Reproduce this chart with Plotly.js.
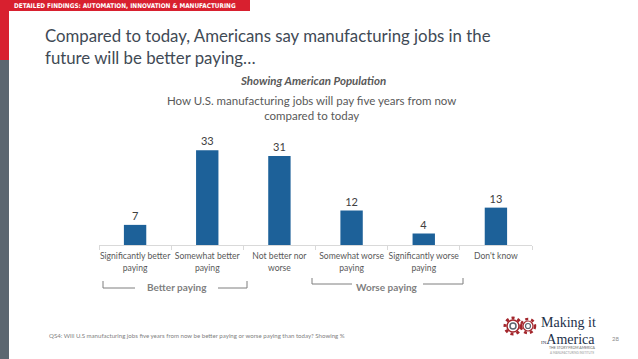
<!DOCTYPE html>
<html>
<head>
<meta charset="utf-8">
<script src="https://cdn.plot.ly/plotly-3.0.1.min.js"></script>
<style>html,body{margin:0;padding:0;background:#fff;}#chart{width:638px;height:359px;}</style>
</head>
<body>
<div id="chart"></div>
<script>
// ---- data ----
const categories = [
  "Significantly better<br>paying",
  "Somewhat better<br>paying",
  "Not better nor<br>worse",
  "Somewhat worse<br>paying",
  "Significantly worse<br>paying",
  "Don't know"
];
const values = [7, 33, 31, 12, 4, 13];
const groupLabels = ["Better paying", "Worse paying"];

const headerText = "DETAILED FINDINGS: AUTOMATION, INNOVATION &amp; MANUFACTURING";
const titleText = "Compared to today, Americans say manufacturing jobs in the<br>future will be better paying…";
const subtitleText = "Showing American Population";
const chartTitleText = "How U.S. manufacturing jobs will pay five years from now<br>compared to today";
const footnoteText = "QS4: Will U.S manufacturing jobs five years from now be better paying or worse paying than today? Showing %";
const pageNumber = "28";

// ---- geometry helpers (pixel -> paper) ----
const W = 638, H = 359;
const L = 99, R = 532, T = 130, B = 245;
const px = x => (x - L) / (R - L);
const py = y => (B - y) / (B - T);

const FONT = "Lato, 'Open Sans', sans-serif";
const grey = "#7f7f7f";

const trace = {
  type: "bar",
  x: categories,
  y: values,
  marker: {color: "#1d6199"},
  text: values.map(String),
  textposition: "outside",
  textfont: {family: FONT, size: 11, color: "#404040"},
  cliponaxis: false,
  hoverinfo: "skip"
};

const shapes = [
  // red header band & side strips
  {type: "rect", xref: "paper", yref: "paper", x0: px(0), x1: px(250), y0: py(0), y1: py(11), fillcolor: "#d8202f", line: {width: 0}, layer: "below"},
  {type: "rect", xref: "paper", yref: "paper", x0: px(0), x1: px(9), y0: py(0), y1: py(60), fillcolor: "#d8202f", line: {width: 0}, layer: "below"},
  {type: "rect", xref: "paper", yref: "paper", x0: px(0), x1: px(9), y0: py(60), y1: py(359), fillcolor: "#5b6670", line: {width: 0}, layer: "below"},
  // Better paying bracket
  {type: "path", xref: "paper", yref: "paper", path: `M ${px(103)},${py(281)} L ${px(103)},${py(288)} L ${px(135)},${py(288)}`, line: {color: grey, width: 1}},
  {type: "path", xref: "paper", yref: "paper", path: `M ${px(218)},${py(288)} L ${px(247)},${py(288)} L ${px(247)},${py(281)}`, line: {color: grey, width: 1}},
  // Worse paying bracket
  {type: "path", xref: "paper", yref: "paper", path: `M ${px(312)},${py(278)} L ${px(312)},${py(284)} L ${px(352)},${py(284)}`, line: {color: grey, width: 1}},
  {type: "path", xref: "paper", yref: "paper", path: `M ${px(423)},${py(284)} L ${px(463)},${py(284)} L ${px(463)},${py(278)}`, line: {color: grey, width: 1}},
  // logo gears
  {type: "circle", xref: "paper", yref: "paper", x0: px(505), x1: px(521), y0: py(318), y1: py(334), line: {color: "#a3262c", width: 3, dash: "dot"}},
  {type: "circle", xref: "paper", yref: "paper", x0: px(507), x1: px(519), y0: py(320), y1: py(332), line: {color: "#a3262c", width: 1.5}},
  {type: "circle", xref: "paper", yref: "paper", x0: px(521), x1: px(535), y0: py(319), y1: py(333), line: {color: "#a3262c", width: 2.5, dash: "dot"}},
  {type: "circle", xref: "paper", yref: "paper", x0: px(523), x1: px(533), y0: py(321), y1: py(331), line: {color: "#a3262c", width: 1.2}},
  {type: "circle", xref: "paper", yref: "paper", x0: px(510), x1: px(516), y0: py(323), y1: py(329), line: {color: "#5b6670", width: 1.5}},
  {type: "circle", xref: "paper", yref: "paper", x0: px(525.5), x1: px(530.5), y0: py(323.5), y1: py(328.5), line: {color: "#5b6670", width: 1.2}}
];

const ann = (x, y, text, opts) => Object.assign({
  xref: "paper", yref: "paper", x: px(x), y: py(y), text: text, showarrow: false,
  xanchor: "center", yanchor: "middle", font: {family: FONT, size: 10, color: "#595959"}
}, opts || {});

const annotations = [
  ann(12, 6, headerText, {xanchor: "left", font: {family: "'DejaVu Sans Condensed', 'Liberation Sans Narrow', sans-serif", size: 6.4, color: "#ffffff", weight: 700}}),
  ann(43, 46, titleText, {xanchor: "left", align: "left", font: {family: FONT, size: 16.8, color: "#3f4a55"}}),
  ann(313, 80, subtitleText, {font: {family: FONT, size: 11.5, color: "#595959", style: "italic", weight: 700}}),
  ann(311, 108, chartTitleText, {font: {family: FONT, size: 11.5, color: "#595959"}}),
  ann(177, 287, groupLabels[0], {font: {family: FONT, size: 10, color: grey, weight: 700}}),
  ann(387, 287, groupLabels[1], {font: {family: FONT, size: 10, color: grey, weight: 700}}),
  ann(47, 335, footnoteText, {xanchor: "left", font: {family: FONT, size: 6.1, color: "#7f7f7f"}}),
  ann(615, 338, pageNumber, {font: {family: FONT, size: 6, color: "#8c8c8c"}}),
  ann(539, 322, "Making it", {xanchor: "left", font: {family: "'Liberation Serif', serif", size: 14, color: "#22304a"}}),
  ann(539, 339, "<span style='font-size:5px'>IN</span>America", {xanchor: "left", font: {family: "'Liberation Serif', serif", size: 14, color: "#22304a"}}),
  ann(572, 348, "THE STORY FROM AMERICA", {font: {family: FONT, size: 3.5, color: "#666"}}),
  ann(572, 353, "A MANUFACTURING INSTITUTE", {font: {family: FONT, size: 3, color: "#999"}})
];

const layout = {
  width: W, height: H,
  margin: {l: L, r: W - R, t: T, b: H - B, pad: 0},
  paper_bgcolor: "#ffffff", plot_bgcolor: "#ffffff",
  showlegend: false,
  bargap: 0.69,
  xaxis: {
    type: "category",
    showline: true, linecolor: "#d9d9d9", linewidth: 1,
    ticks: "outside", tickson: "boundaries", ticklen: 4, tickcolor: "#d9d9d9",
    tickfont: {family: FONT, size: 8.6, color: "#595959"},
    ticklabelstandoff: 3,
    showgrid: false, fixedrange: true, tickangle: 0
  },
  yaxis: {visible: false, range: [0, 40], fixedrange: true, showgrid: false, zeroline: false},
  shapes: shapes,
  annotations: annotations,
  font: {family: FONT}
};

Plotly.newPlot("chart", [trace], layout, {displayModeBar: false, staticPlot: true});
</script>
</body>
</html>
